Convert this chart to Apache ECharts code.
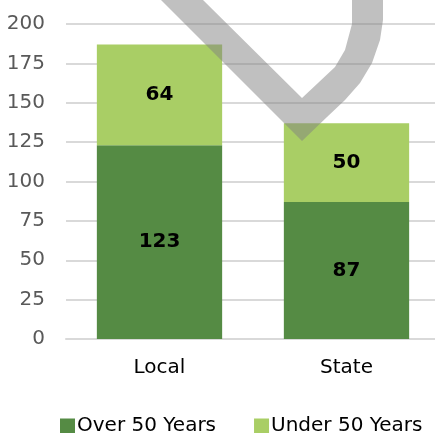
<!DOCTYPE html>
<html><head><meta charset="utf-8">
<script src="https://cdn.jsdelivr.net/npm/echarts@6/dist/echarts.min.js"></script>
<style>html,body{margin:0;padding:0;background:#fff;overflow:hidden;width:435px;height:433px}#c{width:445px;height:433px}</style>
</head><body><div id="c"></div>
<script>
const categories = ['Local', 'State'];
const over50 = [123, 87];
const under50 = [64, 50];
const seriesNames = ['Over 50 Years', 'Under 50 Years'];
const yTicks = [0, 25, 50, 75, 100, 125, 150, 175, 200];

const FONT = 'DejaVu Sans';
const chart = echarts.init(document.getElementById('c'), null, {renderer: 'canvas'});
const labelStyle = {show: true, position: 'inside', color: '#000', fontWeight: 'bold', fontSize: 20, fontFamily: FONT};
chart.setOption({
  animation: false,
  grid: {left: 66, right: 5, top: 24, bottom: 94},
  legend: {
    top: 411, left: 55, itemGap: 38, itemWidth: 15, itemHeight: 15, icon: 'rect',
    textStyle: {fontSize: 20, fontFamily: FONT, color: '#000', padding: [0, 0, 0, -3]},
    data: seriesNames
  },
  xAxis: {
    type: 'category', data: categories,
    axisLine: {show: true, lineStyle: {color: '#d9d9d9', width: 2}},
    axisTick: {show: false},
    axisLabel: {fontSize: 20, fontFamily: FONT, color: '#000', margin: 19}
  },
  yAxis: {
    type: 'value', min: yTicks[0], max: yTicks[yTicks.length - 1], interval: 25,
    axisLine: {show: false}, axisTick: {show: false},
    splitLine: {lineStyle: {color: '#d9d9d9', width: 2}},
    axisLabel: {fontSize: 20, fontFamily: FONT, color: '#595959', margin: 21}
  },
  series: [
    {name: seriesNames[0], type: 'bar', stack: 's', data: over50, barWidth: '67%',
     itemStyle: {color: '#558b44'}, label: labelStyle},
    {name: seriesNames[1], type: 'bar', stack: 's', data: under50, barWidth: '67%',
     itemStyle: {color: '#a9ce65'}, label: labelStyle}
  ],
  graphic: [{
    type: 'polygon', z: 100, silent: true,
    shape: {points: [[161,0],[302,141],[327,117],[345,100],[360,83],[372,63],[380,40],[383,20],[383,0],
                     [352,0],[352,24],[345,50],[335,67],[318,83],[302,98],[203,0]]},
    style: {fill: 'rgba(130,130,130,0.5)'}
  }]
});
</script></body></html>
